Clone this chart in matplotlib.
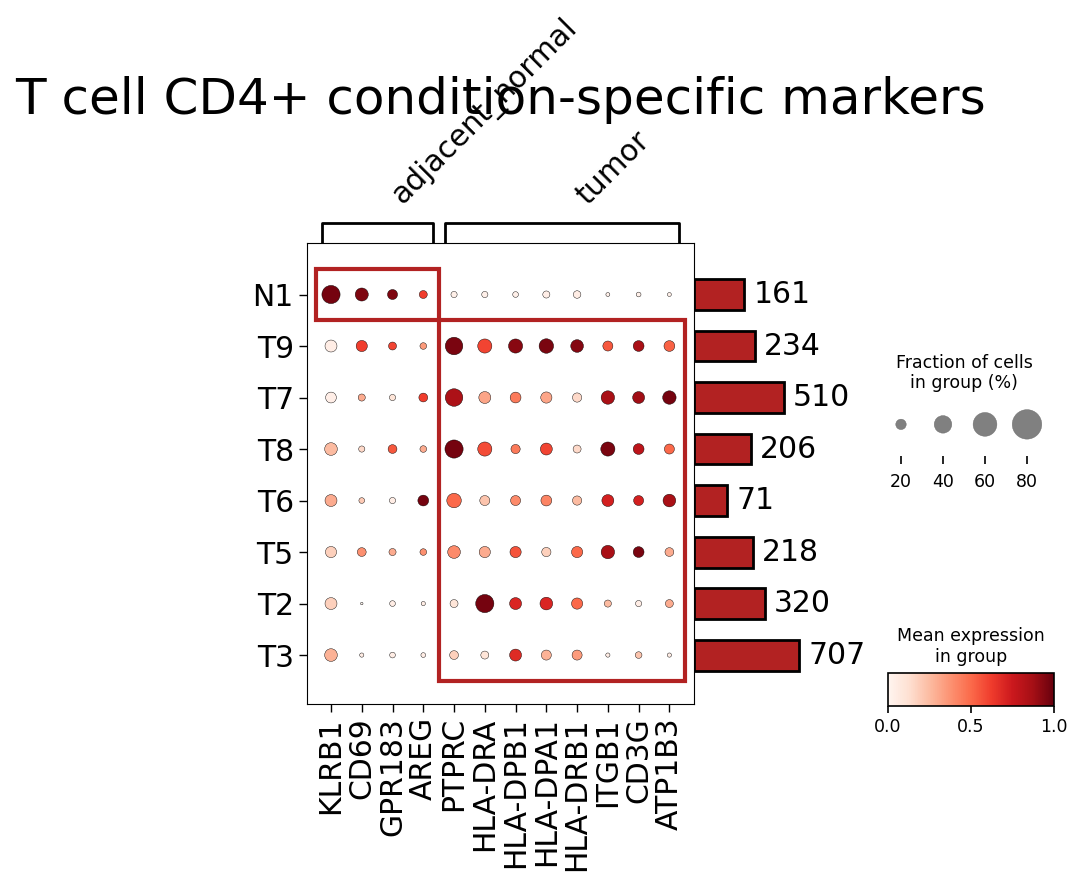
import numpy as np
import matplotlib
matplotlib.use("Agg")
import matplotlib.pyplot as plt
from matplotlib.colors import Normalize
from matplotlib.patches import Rectangle
from matplotlib.colorbar import ColorbarBase

# ---- data ----
genes = ['KLRB1', 'CD69', 'GPR183', 'AREG', 'PTPRC', 'HLA-DRA', 'HLA-DPB1',
         'HLA-DPA1', 'HLA-DRB1', 'ITGB1', 'CD3G', 'ATP1B3']
groups = ['N1', 'T9', 'T7', 'T8', 'T6', 'T5', 'T2', 'T3']
group_names = ['adjacent_normal', 'tumor']
group_sizes = [4, 8]
cell_counts = [161, 234, 510, 206, 71, 218, 320, 707]

# fraction of cells expressing (%)
frac_N1 = [42, 27, 19, 14, 10, 10, 9, 12, 13, 5.5, 7, 5.5]
frac_T9 = [24, 22, 14, 11, 40, 30, 30, 31, 26, 19, 21, 21]
frac_T7 = [21, 12, 10, 16, 40, 24, 21, 22, 17, 28, 24, 28]
frac_T8 = [26, 10, 16, 11, 42, 30, 17, 24, 14, 30, 21, 19]
frac_T6 = [24, 9, 10, 21, 31, 19, 19, 21, 17, 24, 19, 26]
frac_T5 = [22, 16, 12, 11, 26, 22, 22, 17, 22, 28, 21, 16]
frac_T2 = [24, 3, 9, 6, 14, 42, 24, 26, 22, 12, 10, 14]
frac_T3 = [26, 6, 9, 7, 16, 14, 24, 19, 19, 6, 11, 6]

# scaled mean expression (0-1)
expr_N1 = [0.97, 0.95, 0.95, 0.62, 0.03, 0.03, 0.03, 0.04, 0.05, 0.03, 0.03, 0.03]
expr_T9 = [0.05, 0.62, 0.6, 0.35, 0.96, 0.6, 0.93, 0.96, 0.94, 0.55, 0.86, 0.52]
expr_T7 = [0.04, 0.3, 0.1, 0.62, 0.85, 0.32, 0.45, 0.32, 0.15, 0.86, 0.88, 0.97]
expr_T8 = [0.25, 0.15, 0.55, 0.3, 0.97, 0.58, 0.45, 0.6, 0.15, 0.96, 0.8, 0.5]
expr_T6 = [0.3, 0.2, 0.05, 0.97, 0.5, 0.22, 0.4, 0.42, 0.25, 0.72, 0.72, 0.86]
expr_T5 = [0.18, 0.38, 0.3, 0.38, 0.4, 0.3, 0.56, 0.18, 0.5, 0.86, 0.96, 0.3]
expr_T2 = [0.18, 0.0, 0.05, 0.05, 0.1, 0.97, 0.7, 0.7, 0.5, 0.25, 0.05, 0.3]
expr_T3 = [0.28, 0.05, 0.05, 0.05, 0.18, 0.1, 0.68, 0.28, 0.35, 0.05, 0.22, 0.05]

frac = np.array([frac_N1, frac_T9, frac_T7, frac_T8, frac_T6, frac_T5, frac_T2, frac_T3])
expr = np.array([expr_N1, expr_T9, expr_T7, expr_T8, expr_T6, expr_T5, expr_T2, expr_T3])

legend_fracs = [20, 40, 60, 80]

# ---- styling ----
cmap = plt.get_cmap('Reds')
norm = Normalize(0, 1)
dot_max = 80
largest_dot = 451
box_color = '#b22222'
fs = 21.5


def dot_size(f):
    return (np.asarray(f) / dot_max) ** 1.5 * largest_dot


W, H = 1082, 884
fig = plt.figure(figsize=(W / 100, H / 100), dpi=100)


def px_axes(x0, y0, x1, y1):
    return fig.add_axes([x0 / W, 1 - y1 / H, (x1 - x0) / W, (y1 - y0) / H])


# main dot plot
ax = px_axes(307, 243, 694, 704)
xx, yy = np.meshgrid(np.arange(len(genes)), np.arange(len(groups)))
ax.scatter(xx.ravel(), yy.ravel(), s=dot_size(frac.ravel()), c=expr.ravel(),
           cmap=cmap, norm=norm, edgecolors='black', linewidths=0.3, zorder=3)
ax.set_xlim(-0.78, len(genes) - 1 + 0.8)
ax.set_ylim(len(groups) - 1 + 0.95, -1.0)
ax.set_xticks(range(len(genes)))
ax.set_xticklabels(genes, rotation=90, fontsize=fs)
ax.set_yticks(range(len(groups)))
ax.set_yticklabels(groups, fontsize=fs)
ax.tick_params(length=6, width=1)

# highlight boxes around each condition's block
ax.add_patch(Rectangle((-0.5, -0.5), group_sizes[0], 1, fill=False,
                       edgecolor=box_color, linewidth=3, zorder=4))
ax.add_patch(Rectangle((group_sizes[0] - 0.5, 0.5), group_sizes[1], len(groups) - 1,
                       fill=False, edgecolor=box_color, linewidth=3, zorder=4))

# gene group brackets
bax = px_axes(307, 222, 694, 243)
bax.set_xlim(ax.get_xlim())
bax.set_ylim(0, 1)
bax.axis('off')
start = 0
for name, n in zip(group_names, group_sizes):
    left, right = start - 0.3, start + n - 1 + 0.3
    bax.plot([left, left, right, right], [0, 0.95, 0.95, 0], color='black', lw=2)
    bax.text((left + right) / 2 + 0.3, 1.55, name, rotation=45, ha='left',
             va='bottom', fontsize=fs)
    start += n

fig.text((307 + 694) / 2 / W, 1 - 100 / H, 'T cell CD4+ condition-specific markers',
         ha='center', va='center', fontsize=36)

# totals bar plot (sqrt scaled)
tax = px_axes(694, 243, 880, 704)
tax.set_xscale('function', functions=(np.sqrt, np.square))
tax.barh(np.arange(len(groups)), cell_counts, height=0.6, color=box_color,
         edgecolor='black', linewidth=2)
tax.set_xlim(0, 2200)
tax.set_ylim(ax.get_ylim())
tax.axis('off')
for i, c in enumerate(cell_counts):
    tax.text(np.square(np.sqrt(c) + 2.3), i, str(c), va='center', ha='left',
             fontsize=fs)

# size legend
sax = px_axes(880, 405, 1048, 456)
sax.scatter(range(len(legend_fracs)), [0.62] * len(legend_fracs),
            s=dot_size(legend_fracs), color='gray', edgecolors='dimgray',
            linewidths=0.3)
sax.set_xlim(-0.5, len(legend_fracs) - 0.5)
sax.set_ylim(0, 1)
sax.set_xticks(range(len(legend_fracs)))
sax.set_xticklabels([str(f) for f in legend_fracs], fontsize=12.5)
sax.set_yticks([])
for s in sax.spines.values():
    s.set_visible(False)
sax.tick_params(axis='x', length=6, width=1.2, pad=6)
sax.set_title('Fraction of cells\nin group (%)', fontsize=12.5, pad=12)

# colour legend
cax = px_axes(888, 673, 1054, 706)
cb = ColorbarBase(cax, cmap=cmap, norm=norm, orientation='horizontal')
cb.set_ticks([0, 0.5, 1.0])
cb.ax.tick_params(labelsize=12.5, length=5, width=1.2)
cb.outline.set_linewidth(1.2)
cax.set_title('Mean expression\nin group', fontsize=12.5, pad=8)

fig.savefig('out.png', dpi=100)
